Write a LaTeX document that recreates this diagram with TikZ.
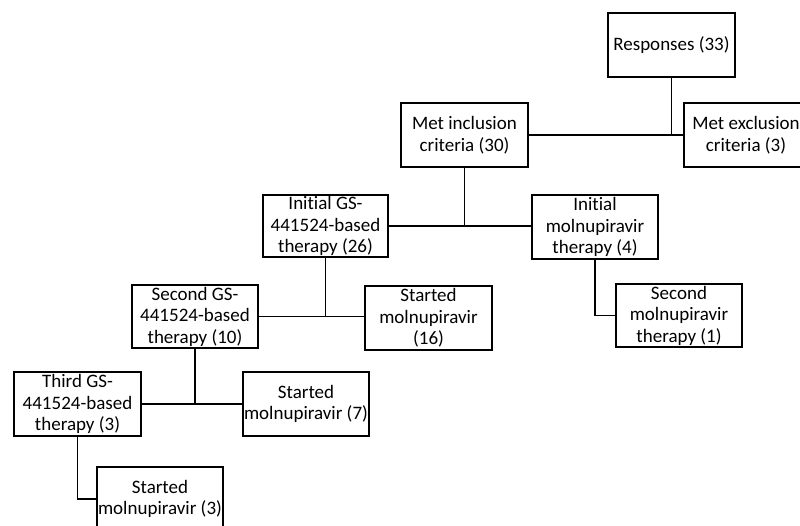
\documentclass[tikz,border=0pt]{standalone}
\usepackage{fontspec}
\setmainfont{Carlito}[Ligatures={NoCommon}]
\begin{document}
\begin{tikzpicture}[x=1pt,y=-1pt,
  box/.style={draw,line width=1.7pt,align=center,inner sep=0pt,minimum width=126pt,minimum height=63pt,font=\fontsize{19}{21.5}\selectfont},
  conn/.style={line width=1.7pt}]
\useasboundingbox (0,0) rectangle (800,526);
\node[box,minimum width=127pt,minimum height=64pt] (resp) at (671.5,45) {Responses (33)};
\node[box,minimum width=124pt,minimum height=64pt] (exc) at (746,135) {Met exclusion\\criteria (3)};
\node[box,minimum width=127pt,minimum height=64pt] (inc) at (464.5,135) {Met inclusion\\criteria (30)};
\node[box,minimum width=125pt,minimum height=62pt] (igs) at (325.5,226) {Initial GS-\\441524-based\\therapy (26)};
\node[box,minimum height=64pt] (imol) at (595,227) {Initial\\molnupiravir\\therapy (4)};
\node[box] (smol) at (679,315.5) {Second\\molnupiravir\\therapy (1)};
\node[box] (sgs) at (195,316.5) {Second GS-\\441524-based\\therapy (10)};
\node[box,minimum width=127pt,minimum height=64pt] (st16) at (428.5,318) {Started\\molnupiravir\\(16)};
\node[box,minimum width=127pt,minimum height=64pt] (tgs) at (77.5,404) {Third GS-\\441524-based\\therapy (3)};
\node[box,minimum height=64pt] (st7) at (306,404) {Started\\molnupiravir (7)};
\node[box,minimum height=64pt] (st3) at (160,499) {Started\\molnupiravir (3)};
\draw[conn] (inc.east) -- (exc.west);
\draw[conn] (resp.south) -- (resp.south |- inc.east);
\draw[conn] (igs.east) -- (igs.east -| imol.west);
\draw[conn] (inc.south) -- (inc.south |- igs.east);
\draw[conn] (sgs.east) -- (sgs.east -| st16.west);
\draw[conn] (igs.south) -- (igs.south |- sgs.east);
\draw[conn] (tgs.east) -- (st7.west);
\draw[conn] (sgs.south) -- (sgs.south |- tgs.east);
\draw[conn] (tgs.south) |- (st3.west);
\draw[conn] (imol.south) |- (smol.west);
\end{tikzpicture}
\end{document}
